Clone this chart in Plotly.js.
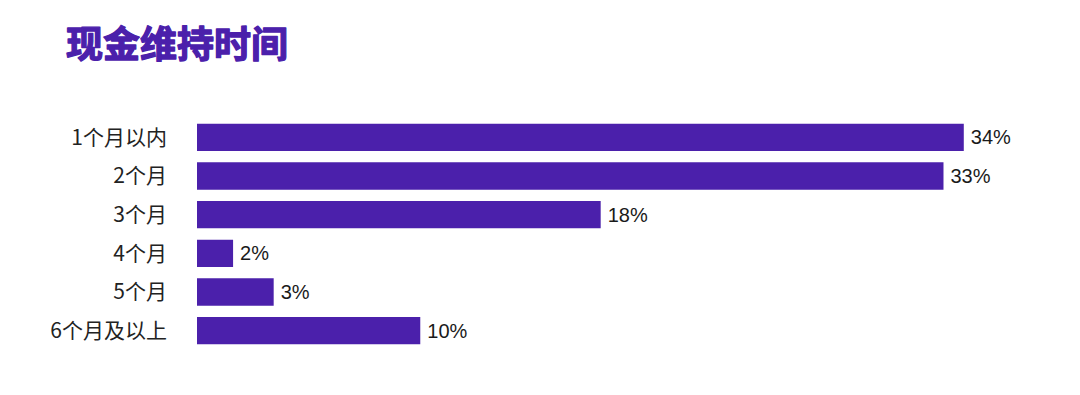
<!DOCTYPE html>
<html>
<head>
<meta charset="utf-8">
<script src="https://cdn.plot.ly/plotly-3.0.1.min.js"></script>
<style>html,body{margin:0;padding:0;background:#fff;}#chart{width:1080px;height:395px;}
#chart .gtitle{stroke:#4B20AB;stroke-width:1.3px;stroke-linejoin:round;}</style>
</head>
<body>
<div id="chart"></div>
<script>
const categories = ["1个月以内", "2个月", "3个月", "4个月", "5个月", "6个月及以上"];
const values = [34, 33.1, 17.9, 1.6, 3.4, 9.9];
const valueLabels = ["34%", "33%", "18%", "2%", "3%", "10%"];
const titleText = "现金维持时间";

const barColor = "#4B20AB";

Plotly.newPlot("chart", [{
  type: "bar",
  orientation: "h",
  y: categories,
  x: values,
  text: valueLabels.map(s => "\u2009" + s),
  textposition: "outside",
  cliponaxis: false,
  textfont: {family: "Liberation Sans, Arial, sans-serif", size: 20, color: "#1a1a1a"},
  marker: {color: barColor, line: {width: 0}},
  hoverinfo: "none"
}], {
  width: 1080,
  height: 395,
  paper_bgcolor: "#fff",
  plot_bgcolor: "#fff",
  margin: {l: 197, r: 26, t: 118, b: 45},
  bargap: 0.295,
  showlegend: false,
  title: {
    text: "<b>" + titleText + "</b>",
    font: {family: "Noto Sans CJK SC", size: 37, color: barColor},
    x: 0, xref: "container", xanchor: "left",
    y: 1, yref: "container", yanchor: "top",
    pad: {l: 66, t: 32}
  },
  xaxis: {
    range: [0, 38],
    visible: false,
    showgrid: false,
    zeroline: false,
    fixedrange: true
  },
  yaxis: {
    autorange: "reversed",
    showgrid: false,
    zeroline: false,
    showline: false,
    ticks: "",
    ticklabelstandoff: 29,
    tickfont: {family: "Noto Sans CJK SC", size: 21, color: "#222"},
    fixedrange: true
  }
}, {displayModeBar: false, staticPlot: true});
</script>
</body>
</html>
